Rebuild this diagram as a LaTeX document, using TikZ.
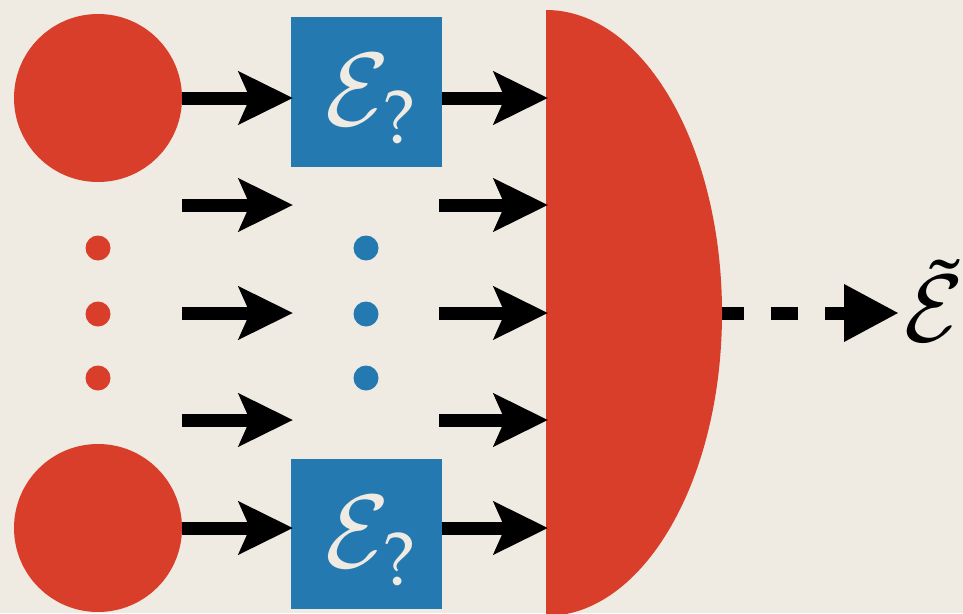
\documentclass[tikz,border=0pt]{standalone}
\usepackage{mathpazo}
\usetikzlibrary{arrows.meta}
\definecolor{bg}{RGB}{239,235,226}
\definecolor{myred}{RGB}{217,62,42}
\definecolor{myblue}{RGB}{36,122,176}
\tikzset{
  src/.style={circle, fill=myred, minimum size=168pt, inner sep=0pt},
  dotr/.style={circle, fill=myred, minimum size=25pt, inner sep=0pt},
  dotb/.style={circle, fill=myblue, minimum size=25pt, inner sep=0pt},
  chan/.style={rectangle, fill=myblue, minimum width=151pt, minimum height=150pt, inner sep=0pt},
  chanlabel/.style={anchor=base, inner sep=0pt, text=bg, font=\fontsize{100}{110}\selectfont},
  bigarrow/.style={line width=13pt, -{Stealth[length=54pt, width=52pt, inset=11pt]}},
  dasharrow/.style={line width=13pt, dash pattern=on 27pt off 27pt,
    -{Triangle[length=55pt, width=54pt]}},
}
\begin{document}
\begin{tikzpicture}[x=1pt, y=-1pt]
\fill[bg] (0,0) rectangle (963,613);
\useasboundingbox (0,0) rectangle (963,613);
% sources
\node[src] (s1) at (98,98) {};
\node[src] (s2) at (98,528) {};
\node[dotr] (r1) at (98,248) {};
\node[dotr] (r2) at (98,314) {};
\node[dotr] (r3) at (98,378) {};
% channels
\node[chan] (c1) at (366,92) {};
\node[chan] (c2) at (366,534) {};
\node[chanlabel] (e1) at (371,125) {$\mathcal{E}_?$};
\node[chanlabel] (e2) at (371,567) {$\mathcal{E}_?$};
\node[dotb] (b1) at (366,248) {};
\node[dotb] (b2) at (366,314) {};
\node[dotb] (b3) at (366,378) {};
% free arrow ends
\foreach \y/\n in {205/a, 313/b, 420/c}{
  \coordinate (l\n) at (182,\y);
  \coordinate (lt\n) at (293,\y);
  \coordinate (r\n) at (439,\y);
  \coordinate (rt\n) at (548,\y);
}
\coordinate (t1) at (293,98);
\coordinate (t2) at (293,528);
\coordinate (m1) at (548,98);
\coordinate (m2) at (548,528);
% output
\node[anchor=base west, inner sep=0pt, font=\fontsize{92}{100}\selectfont] (out) at (903,341) {$\tilde{\mathcal{E}}$};
\coordinate (ostart) at (717,313);
\coordinate (oend) at (899,313);
\draw[dasharrow] (ostart) -- (oend);
\fill[myred] (546,616) arc[start angle=90, end angle=-90, x radius=176, y radius=303] -- cycle;
% arrows
\draw[bigarrow] (s1.east) -- (t1);
\draw[bigarrow] (s2.east) -- (t2);
\draw[bigarrow] (c1.east |- m1) -- (m1);
\draw[bigarrow] (c2.east |- m2) -- (m2);
\foreach \n in {a,b,c}{
  \draw[bigarrow] (l\n) -- (lt\n);
  \draw[bigarrow] (r\n) -- (rt\n);
}
\end{tikzpicture}
\end{document}
